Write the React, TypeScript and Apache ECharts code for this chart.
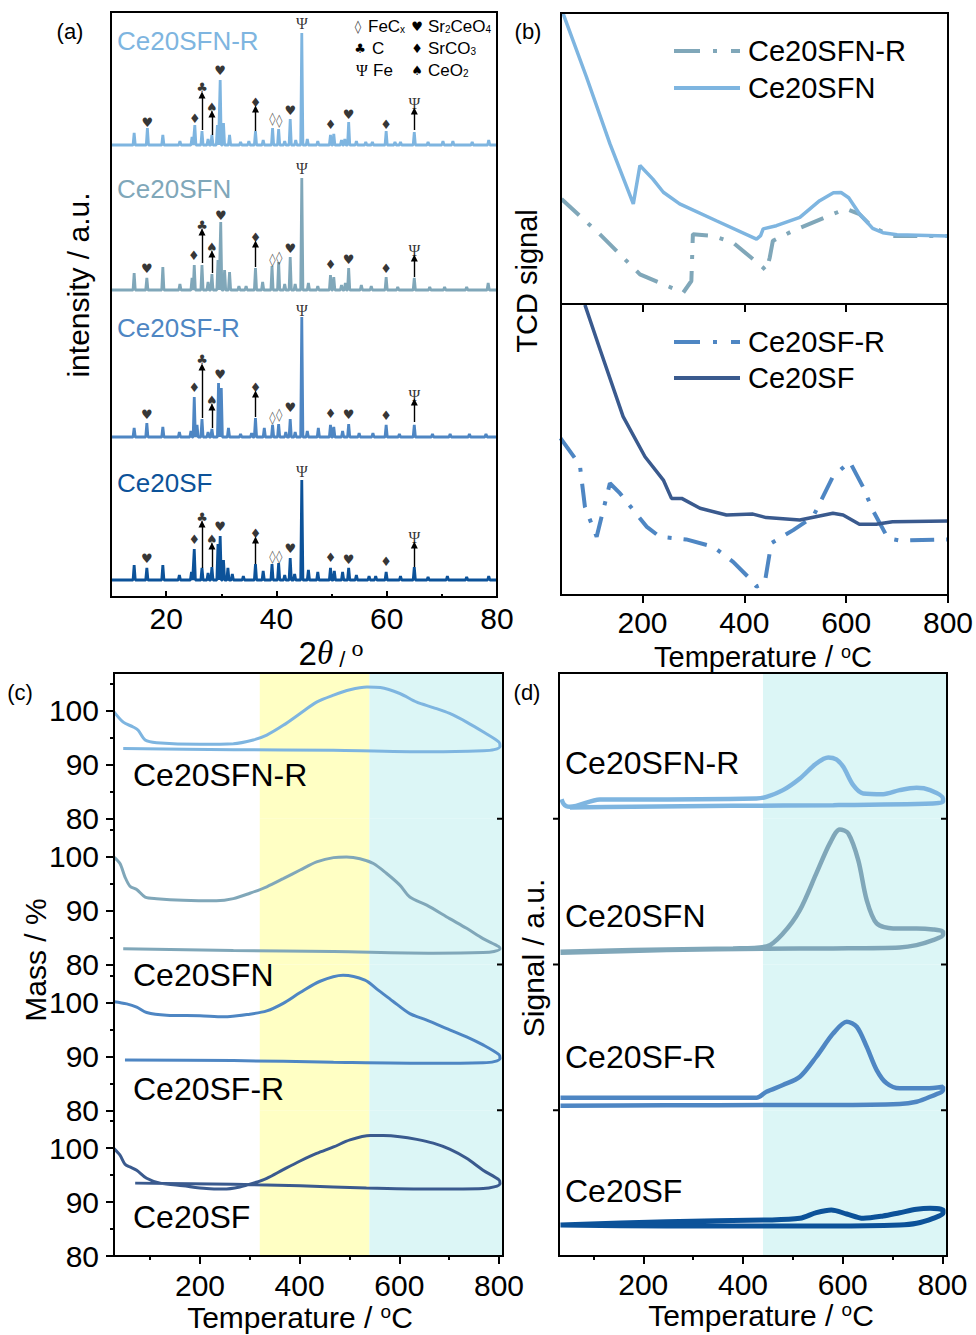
import React, { useEffect, useRef } from 'react';
import * as echarts from 'echarts';

const FONT = '"Liberation Sans", Arial, Helvetica, sans-serif';
const SYM_FONT = '"DejaVu Sans", sans-serif';
const SERIF = '"Liberation Serif", "DejaVu Serif", serif';

const C_SFNR = '#7EB5E0';
const C_SFN = '#80A7B9';
const C_SFR = '#4E86C3';
const C_SF = '#0C5299';
const C_SF_B = '#3A5A8E';
const YELLOW = '#FFFFC4';
const CYAN = '#DCF6F6';

// ---------------- (a) XRD: peaks [2θ, intensity (a.u.)] ----------------
const xrdMajor = [20, 40, 60, 80];
const xrdMinor = [30, 50, 70];
const xrdSFNR = [[14.2,12],[16.6,17],[19.4,10],[22.5,4],[24.7,8],[25.2,20],[26.5,14],[27.6,6],[28.3,10],[29.3,20],[29.8,65],[30.4,22],[31.5,10],[33.5,3],[35.0,4],[36.2,14],[37.6,5],[39.3,17],[40.4,16],[41.5,4],[42.5,26],[43.5,5],[44.6,112],[45.6,6],[47.5,4],[49.8,10],[50.4,11],[51.8,5],[52.4,6],[53.1,23],[54.5,4],[56.2,3],[57.4,3],[59.9,14],[61.5,3],[62.5,3],[65.0,13],[67.5,3],[70.2,4],[72.0,4],[75.5,3],[78.5,5]];
const xrdSFN = [[14.2,17],[16.5,12],[19.4,23],[22.5,6],[24.7,12],[25.1,25],[26.5,25],[27.6,8],[28.3,16],[29.4,30],[29.9,68],[30.6,20],[31.5,18],[33.2,4],[34.5,4],[36.2,22],[37.5,8],[39.2,24],[40.4,28],[41.5,6],[42.5,33],[43.4,6],[44.6,112],[45.8,7],[47.5,4],[49.8,15],[50.4,13],[51.8,5],[52.5,7],[53.1,22],[55.4,5],[57.2,4],[59.9,13],[62.0,3],[65.0,12],[67.8,3],[70.5,3],[74.5,3],[78.4,7]];
const xrdSFR = [[14.2,9],[16.5,14],[19.4,10],[22.4,5],[24.5,6],[25.1,40],[25.6,12],[26.5,18],[27.6,5],[28.3,8],[29.5,54],[30.0,49],[31.3,9],[33.5,3],[35.5,4],[36.2,19],[37.8,9],[39.3,12],[40.4,13],[41.7,5],[42.5,18],[43.4,5],[44.6,120],[45.6,6],[47.6,9],[49.8,12],[50.4,10],[52.0,6],[53.1,13],[55.0,4],[57.5,4],[59.9,12],[62.3,3],[65.0,12],[68.3,3],[71.5,3],[75.0,3],[78.0,3]];
const xrdSF = [[14.2,15],[16.5,12],[19.4,15],[22.4,5],[24.6,8],[25.1,31],[26.5,12],[27.6,7],[28.3,13],[29.4,36],[29.8,44],[30.4,20],[31.2,12],[32.0,6],[34.0,4],[36.2,16],[37.6,9],[39.2,16],[40.4,17],[41.5,5],[42.5,22],[43.3,6],[44.6,100],[45.8,10],[47.5,8],[49.8,12],[50.5,9],[52.0,8],[53.1,12],[54.5,5],[56.8,4],[58.0,4],[59.9,8],[62.5,4],[65.0,13],[67.5,3],[71.0,4],[74.5,3],[78.5,4]];

// phase markers [2θ, height above trace baseline, glyph]
const marksSFNR = [[16.6,23,'♥'],[25.2,27,'♦'],[26.5,58,'♣'],[28.3,38,'♠'],[29.8,75,'♥'],[36.2,43,'♦'],[39.3,27,'◊'],[40.5,25,'◊'],[42.5,35,'♥'],[44.6,122,'Ψ'],[49.8,21,'♦'],[53.1,31,'♥'],[59.9,21,'♦'],[65.0,42,'Ψ']];
const marksSFN = [[16.5,22,'♥'],[25.0,35,'♦'],[26.5,65,'♣'],[28.3,43,'♠'],[29.9,75,'♥'],[36.2,53,'♦'],[39.3,31,'◊'],[40.5,33,'◊'],[42.5,42,'♥'],[44.6,122,'Ψ'],[49.8,26,'♦'],[53.1,31,'♥'],[59.9,22,'♦'],[65.0,40,'Ψ']];
const marksSFR = [[16.5,23,'♥'],[25.1,50,'♦'],[26.5,78,'♣'],[28.3,37,'♠'],[29.8,63,'♥'],[36.2,50,'♦'],[39.3,20,'◊'],[40.5,23,'◊'],[42.5,30,'♥'],[44.6,127,'Ψ'],[49.8,24,'♦'],[53.1,23,'♥'],[59.9,22,'♦'],[65.0,42,'Ψ']];
const marksSF = [[16.5,22,'♥'],[25.1,41,'♦'],[26.5,63,'♣'],[28.3,41,'♠'],[29.8,54,'♥'],[36.2,47,'♦'],[39.3,24,'◊'],[40.5,24,'◊'],[42.5,32,'♥'],[44.6,109,'Ψ'],[49.8,23,'♦'],[53.1,21,'♥'],[59.9,19,'♦'],[65.0,43,'Ψ']];
// arrows [2θ, from, to] above baseline
const arrowsSFNR = [[26.5,15,50],[28.3,10,31],[36.2,14,36],[65.0,15,34]];
const arrowsSFN = [[26.5,27,58],[28.3,17,36],[36.2,23,46],[65.0,13,32]];
const arrowsSFR = [[26.5,19,70],[28.3,9,30],[36.2,20,43],[65.0,15,35]];
const arrowsSF = [[26.5,12,56],[28.3,13,34],[36.2,16,40],[65.0,13,35]];

// ---------------- (b) TCD [T, signal] ----------------
const tempMajor = [200, 400, 600, 800];
const tcdSFN = [[44,99.9],[90,78],[136,55.1],[182,34.4],[195,47.6],[220,43],[241,38.4],[273,34.4],[345,28.6],[424,22.3],[432,23.5],[437,25.8],[463,26.9],[509,29.8],[548,35.5],[575,38.2],[590,38.3],[605,36.5],[626,31],[652,26],[672,24.5],[700,23.8],[800,23.4]];
const tcdSFNR = [[41,36.1],[116,24],[195,10.2],[280,3.9],[296,7.9],[299,24],[339,23.4],[378,21.1],[437,12.5],[443,11.4],[450,16],[456,21.7],[496,25.2],[574,30.9],[600,32.7],[626,30.9],[652,26.3],[691,23.4],[800,23.4]];
const tcdSF = [[87,99.7],[117,84.2],[162,61.3],[205,47.5],[241,39.5],[257,33.2],[277,33.2],[313,29.8],[365,27.5],[417,27.8],[443,26.6],[509,25.8],[574,28.1],[594,27.5],[626,24.3],[659,24.3],[691,25.2],[800,25.4]];
const tcdSFR = [[39,53.9],[77,44.7],[87,30.3],[110,20],[136,38.4],[156,34.9],[208,23.5],[234,20],[286,19.1],[339,16.6],[378,11.4],[407,6.3],[424,2.9],[440,4],[453,17.8],[496,22.3],[535,26.9],[574,40.7],[607,45.8],[633,37.2],[652,29.2],[682,19.5],[705,18.7],[800,19.1]];

// ---------------- (c) TG mass % [T, mass] ----------------
const massMajor = [80, 90, 100];
const massMinor = [85, 95, 105];
const tempMinor = [100, 300, 500, 700];
const tgSFNR = [[27.5,99.8],[46,97.9],[66,97.0],[76,96.4],[90,94.6],[113,94.1],[200,93.8],[267,93.9],[307,94.6],[334,95.5],[367,97.3],[401,99.5],[434,101.6],[468,102.9],[501,103.9],[535,104.4],[562,104.3],[601,103.2],[635,101.6],[668,100.6],[701,99.5],[735,97.9],[768,96.1],[800,94.2],[802,93.4],[790,92.8],[768,92.6],[668,92.4],[468,92.7],[267,92.8],[46,93.0]];
const tgSFN = [[27.5,99.9],[39.5,98.7],[49.6,96.2],[59.6,94.5],[73,93.9],[90,92.5],[113,92.2],[166,91.9],[233,91.8],[267,92.2],[300,93.2],[334,94.4],[367,95.9],[401,97.5],[434,99.0],[468,99.8],[494,99.9],[521,99.6],[548,98.7],[574,96.9],[601,94.7],[621,92.5],[655,91.0],[701,88.5],[735,86.7],[768,84.8],[800,83.3],[802,82.9],[790,82.4],[768,82.2],[668,82.1],[468,82.4],[267,82.6],[46,82.9]];
const tgSFR = [[27.5,100.1],[53,99.7],[73,99.1],[93,98.1],[133,97.6],[200,97.5],[247,97.3],[300,97.8],[334,98.4],[367,99.8],[401,101.8],[441,103.9],[487,105.0],[531,104.1],[557,102.3],[587,100.2],[621,97.9],[655,96.7],[701,94.9],[735,93.6],[768,92.1],[800,90.3],[802,89.6],[790,89.0],[768,88.8],[668,88.7],[468,88.9],[267,89.2],[49.5,89.3]];
const tgSF = [[27.5,99.9],[39.5,98.7],[49.6,97.0],[59.6,96.5],[73,95.9],[93,94.4],[120,93.5],[166,93.0],[213,92.5],[247,92.4],[280,92.8],[307,93.5],[334,94.4],[367,96.0],[401,97.6],[434,99.0],[468,100.2],[501,101.5],[542,102.3],[568,102.3],[601,102.1],[635,101.6],[668,100.9],[701,99.8],[735,98.1],[768,95.9],[800,94.1],[802,93.4],[790,92.8],[768,92.5],[668,92.4],[534,92.6],[401,93.0],[267,93.3],[70,93.5]];

// ---------------- (d) MS signal [T, a.u.] ----------------
const msSFNR = [[36,19.5],[40,15],[46,12.5],[53,12],[113,19.3],[179,19.3],[427,20.3],[447,21.9],[480,28.6],[514,40.3],[547,55.3],[571,61.3],[587,59.3],[601,51.9],[621,33.6],[641,25.3],[681,24.6],[714,28.6],[748,30.9],[775,28.6],[801,20.3],[801,16.9],[781,15.3],[581,13.6],[380,12.9],[179,11.9],[53,11.3]];
const msSFN = [[34,12.7],[179,14.4],[380,16.1],[447,18],[480,31],[514,54.4],[547,91.1],[574,121.1],[594,135.1],[611,131.1],[631,104.4],[648,64.4],[668,41.1],[701,36.1],[748,36.1],[781,35.1],[801,32.7],[801,29.4],[781,24.4],[748,19.4],[714,17.1],[581,16.1],[447,15.7],[247,14.4],[34,11.7]];
const msSFR = [[34,12.5],[427,12.5],[447,18.5],[480,25.2],[514,33.5],[547,53.5],[581,76.9],[608,88.5],[628,83.5],[648,63.5],[668,40.2],[688,26.9],[714,21.9],[768,21.9],[801,23.5],[801,20.2],[775,13.5],[748,8.5],[714,6.2],[581,5.2],[447,5.2],[247,4.9],[34,4.5]];
const msSF = [[34,31],[247,34.3],[447,36],[514,37.7],[547,43.3],[577,46],[608,42],[641,37.7],[681,40],[714,43.3],[748,46.7],[775,47.7],[801,46],[801,42.7],[781,37.7],[748,32.7],[714,31],[581,30],[447,30],[247,30],[34,31]];

// -------- layout constants --------
const XRD_BASES = [452, 307, 160, 17];
const STACK_TOPS = [673, 818.75, 964.5, 1110.25];
const STACK_H = 145.75;
const DASHDOT = [24, 12, 4, 12];

function xrdLine(peaks: number[][], base: number) {
  const pts: number[][] = [[10, base]];
  for (const [p, h] of peaks) {
    pts.push([p - 0.2, base], [p, base + h], [p + 0.2, base]);
  }
  pts.push([80, base]);
  return pts;
}

function text(x: number, y: number, str: string, o: any = {}) {
  const align = o.align || 'left';
  const va = o.va || 'middle';
  return {
    type: 'text', x, y, z: 100, rotation: o.rotation || 0,
    style: {
      text: str, fill: o.color || '#000', fontSize: o.size || 30, fontFamily: o.family || FONT,
      align, verticalAlign: va, textAlign: align, textVerticalAlign: va, rich: o.rich,
    },
  };
}
function frame(x: number, y: number, w: number, h: number) {
  return { type: 'rect', z: 100, shape: { x, y, width: w, height: h }, style: { fill: 'none', stroke: '#000', lineWidth: 2 } };
}
function tick(x1: number, y: number, x2: number) {
  return { type: 'line', z: 100, shape: { x1, y1: y, x2, y2: y }, style: { stroke: '#000', lineWidth: 2 } };
}

function buildOption() {
  const grids: any[] = [
    { left: 111, top: 12, width: 386, height: 585 },
    { left: 561, top: 13, width: 387, height: 291 },
    { left: 561, top: 304, width: 387, height: 291 },
    ...STACK_TOPS.map((t) => ({ left: 114, top: t, width: 389, height: STACK_H })),
    ...STACK_TOPS.map((t) => ({ left: 559, top: t, width: 388, height: STACK_H })),
  ].map((g) => ({ ...g, outerBoundsMode: 'none', containLabel: false }));

  const tickStyle = { color: '#000', width: 2 };
  const lbl = (vals: number[], margin: number) => ({ show: true, customValues: vals, fontSize: 30, color: '#000', fontFamily: FONT, margin });
  const noLbl = { show: false };

  const xAxes: any[] = [];
  const yAxes: any[] = [];
  // (a) 0,1
  xAxes.push({ type: 'value', gridIndex: 0, min: 10, max: 80, position: 'bottom', axisLine: { show: false }, splitLine: { show: false },
    axisTick: { show: true, inside: true, length: 6, customValues: xrdMajor, lineStyle: tickStyle }, axisLabel: lbl(xrdMajor, 6) });
  xAxes.push({ type: 'value', gridIndex: 0, min: 10, max: 80, position: 'bottom', axisLine: { show: false }, splitLine: { show: false },
    axisTick: { show: true, inside: true, length: 3, customValues: xrdMinor, lineStyle: tickStyle }, axisLabel: noLbl });
  // (b) 2,3
  xAxes.push({ type: 'value', gridIndex: 1, min: 40, max: 800, position: 'bottom', axisLine: { show: false }, splitLine: { show: false },
    axisTick: { show: true, length: 8, customValues: [200, 400, 600], lineStyle: tickStyle }, axisLabel: noLbl });
  xAxes.push({ type: 'value', gridIndex: 2, min: 40, max: 800, position: 'bottom', axisLine: { show: false }, splitLine: { show: false },
    axisTick: { show: true, length: 8, customValues: tempMajor, lineStyle: tickStyle }, axisLabel: lbl(tempMajor, 12) });
  // (c) 4..7, minor 8
  for (let i = 0; i < 4; i++) {
    const last = i === 3;
    xAxes.push({ type: 'value', gridIndex: 3 + i, min: 27.5, max: 808, position: 'bottom', axisLine: { show: false }, splitLine: { show: false },
      axisTick: { show: last, length: 8, customValues: tempMajor, lineStyle: tickStyle }, axisLabel: last ? lbl(tempMajor, 14) : noLbl });
  }
  xAxes.push({ type: 'value', gridIndex: 6, min: 27.5, max: 808, position: 'bottom', axisLine: { show: false }, splitLine: { show: false },
    axisTick: { show: true, length: 4, customValues: tempMinor, lineStyle: tickStyle }, axisLabel: noLbl });
  // (d) 9..12, minor 13
  for (let i = 0; i < 4; i++) {
    const last = i === 3;
    xAxes.push({ type: 'value', gridIndex: 7 + i, min: 31, max: 809, position: 'bottom', axisLine: { show: false }, splitLine: { show: false },
      axisTick: { show: last, length: 8, customValues: tempMajor, lineStyle: tickStyle }, axisLabel: last ? lbl(tempMajor, 13) : noLbl });
  }
  xAxes.push({ type: 'value', gridIndex: 10, min: 31, max: 809, position: 'bottom', axisLine: { show: false }, splitLine: { show: false },
    axisTick: { show: true, length: 4, customValues: tempMinor, lineStyle: tickStyle }, axisLabel: noLbl });

  // y axes
  yAxes.push({ type: 'value', gridIndex: 0, min: 0, max: 585, show: false });
  yAxes.push({ type: 'value', gridIndex: 1, min: 0, max: 100, show: false });
  yAxes.push({ type: 'value', gridIndex: 2, min: 0, max: 100, show: false });
  for (let i = 0; i < 4; i++) {
    yAxes.push({ type: 'value', gridIndex: 3 + i, min: 80, max: 107, position: 'left', offset: 0, axisLine: { show: false }, splitLine: { show: false },
      axisTick: { show: true, length: 8, customValues: massMajor, lineStyle: tickStyle }, axisLabel: lbl(massMajor, 15) });
  }
  for (let i = 0; i < 4; i++) {
    yAxes.push({ type: 'value', gridIndex: 3 + i, min: 80, max: 107, position: 'left', offset: 0, axisLine: { show: false }, splitLine: { show: false },
      axisTick: { show: true, length: 4, customValues: massMinor, lineStyle: tickStyle }, axisLabel: noLbl });
  }
  for (let i = 0; i < 4; i++) {
    yAxes.push({ type: 'value', gridIndex: 7 + i, min: 0, max: STACK_H, show: false });
  }

  const series: any[] = [];
  // (a)
  const xrdSets = [
    { peaks: xrdSFNR, color: C_SFNR, marks: marksSFNR, arrows: arrowsSFNR },
    { peaks: xrdSFN, color: C_SFN, marks: marksSFN, arrows: arrowsSFN },
    { peaks: xrdSFR, color: C_SFR, marks: marksSFR, arrows: arrowsSFR },
    { peaks: xrdSF, color: C_SF, marks: marksSF, arrows: arrowsSF },
  ];
  xrdSets.forEach((s, i) => {
    const base = XRD_BASES[i];
    series.push({
      type: 'line', xAxisIndex: 0, yAxisIndex: 0, data: xrdLine(s.peaks as number[][], base), symbol: 'none', z: 3,
      lineStyle: { color: s.color, width: 2.8 },
      markLine: {
        silent: true, symbol: ['none', 'triangle'], symbolSize: 7, label: { show: false },
        lineStyle: { color: '#000', width: 1.4, type: 'solid' },
        data: s.arrows.map(([x, a, b]) => [{ coord: [x, base + a] }, { coord: [x, base + b] }]),
      },
    });
    series.push({
      type: 'scatter', xAxisIndex: 0, yAxisIndex: 0, symbolSize: 1, z: 5, itemStyle: { color: 'rgba(0,0,0,0)' },
      data: s.marks.map(([x, h, g]) => ({ value: [x, base + (h as number)], name: g })),
      label: {
        show: true, position: 'inside',
        formatter: (p: any) => (p.name === 'Ψ' ? '{p|Ψ}' : p.name === '◊' ? '{d|◊}' : `{g|${p.name}}`),
        rich: {
          g: { fontSize: 13, fontFamily: SYM_FONT, color: '#000' },
          d: { fontSize: 13, fontFamily: SYM_FONT, color: '#444' },
          p: { fontSize: 16, fontFamily: SERIF, color: '#000' },
        },
      },
    });
  });

  // (b)
  series.push({ type: 'line', xAxisIndex: 2, yAxisIndex: 1, data: tcdSFNR, symbol: 'none', lineStyle: { color: C_SFN, width: 4, type: DASHDOT } });
  series.push({ type: 'line', xAxisIndex: 2, yAxisIndex: 1, data: tcdSFN, symbol: 'none', lineStyle: { color: C_SFNR, width: 3.5 } });
  series.push({ type: 'line', xAxisIndex: 3, yAxisIndex: 2, data: tcdSFR, symbol: 'none', lineStyle: { color: C_SFR, width: 4, type: DASHDOT } });
  series.push({ type: 'line', xAxisIndex: 3, yAxisIndex: 2, data: tcdSF, symbol: 'none', lineStyle: { color: C_SF_B, width: 3.5 } });

  // (c)
  const tgSets = [
    { d: tgSFNR, c: C_SFNR },
    { d: tgSFN, c: C_SFN },
    { d: tgSFR, c: C_SFR },
    { d: tgSF, c: C_SF_B },
  ];
  tgSets.forEach((s, i) => {
    series.push({
      type: 'line', xAxisIndex: 4 + i, yAxisIndex: 3 + i, data: s.d, symbol: 'none', smooth: 0.3,
      lineStyle: { color: s.c, width: 3 },
      markArea: {
        silent: true,
        data: [
          [{ xAxis: 320, itemStyle: { color: YELLOW } }, { xAxis: 540, itemStyle: { color: YELLOW } }],
          [{ xAxis: 540, itemStyle: { color: CYAN } }, { xAxis: 808, itemStyle: { color: CYAN } }],
        ],
      },
    });
  });

  // (d)
  const msSets = [
    { d: msSFNR, c: C_SFNR, w: 4.5 },
    { d: msSFN, c: C_SFN, w: 4.5 },
    { d: msSFR, c: C_SFR, w: 4.5 },
    { d: msSF, c: C_SF, w: 5 },
  ];
  msSets.forEach((s, i) => {
    series.push({
      type: 'line', xAxisIndex: 9 + i, yAxisIndex: 11 + i, data: s.d, symbol: 'none', smooth: 0.3,
      lineStyle: { color: s.c, width: s.w },
      markArea: {
        silent: true,
        data: [[{ xAxis: 440, itemStyle: { color: CYAN } }, { xAxis: 809, itemStyle: { color: CYAN } }]],
      },
    });
  });

  const supRich = (size: number) => ({
    a: { fontSize: size, fontFamily: FONT, color: '#000', lineHeight: size },
    s: { fontSize: Math.round(size * 0.62), fontFamily: FONT, color: '#000', verticalAlign: 'top', lineHeight: size },
  });
  const subRich = {
    a: { fontSize: 17, fontFamily: FONT, color: '#000', lineHeight: 17 },
    s: { fontSize: 10, fontFamily: FONT, color: '#000', verticalAlign: 'bottom', lineHeight: 12 },
  };
  const tempName = '{a|Temperature / }{s|o}{a|C}';

  const boundaryTicks: any[] = [];
  STACK_TOPS.slice(1).forEach((y) => {
    boundaryTicks.push(tick(497, y, 503), tick(941, y, 947), tick(553, y, 559));
  });

  const graphics: any[] = [
    frame(111, 12, 386, 585),
    frame(561, 13, 387, 291),
    frame(561, 304, 387, 291),
    frame(114, 673, 389, 583),
    frame(559, 673, 388, 583),
    ...boundaryTicks,
    // panel letters
    text(70, 31, '(a)', { size: 22, align: 'center' }),
    text(528, 31, '(b)', { size: 22, align: 'center' }),
    text(20, 692, '(c)', { size: 22, align: 'center' }),
    text(527, 692, '(d)', { size: 22, align: 'center' }),
    // (a) sample labels
    text(117, 41, 'Ce20SFN-R', { size: 26, color: C_SFNR }),
    text(117, 189, 'Ce20SFN', { size: 26, color: C_SFN }),
    text(117, 328, 'Ce20SF-R', { size: 26, color: C_SFR }),
    text(117, 483, 'Ce20SF', { size: 26, color: C_SF }),
    // (a) phase legend
    text(358, 26, '◊', { size: 13, family: SYM_FONT, align: 'center', color: '#444' }),
    text(368, 26, '{a|FeC}{s|x}', { rich: subRich }),
    text(417, 26, '♥', { size: 13, family: SYM_FONT, align: 'center' }),
    text(428, 26, '{a|Sr}{s|2}{a|CeO}{s|4}', { rich: subRich }),
    text(360, 48, '♣', { size: 13, family: SYM_FONT, align: 'center' }),
    text(372, 48, '{a|C}', { rich: subRich }),
    text(417, 48, '♦', { size: 13, family: SYM_FONT, align: 'center' }),
    text(428, 48, '{a|SrCO}{s|3}', { rich: subRich }),
    text(362, 70, 'Ψ', { size: 16, family: SERIF, align: 'center' }),
    text(373, 70, '{a|Fe}', { rich: subRich }),
    text(417, 70, '♠', { size: 13, family: SYM_FONT, align: 'center' }),
    text(428, 70, '{a|CeO}{s|2}', { rich: subRich }),
    // (a) axis names
    text(78, 285, 'intensity / a.u.', { size: 30, align: 'center', rotation: Math.PI / 2 }),
    text(331, 653, '{n|2}{t|θ}{l| / }{s|o}', {
      align: 'center',
      rich: {
        n: { fontSize: 33, fontFamily: FONT, color: '#000', lineHeight: 34 },
        t: { fontSize: 33, fontFamily: SERIF, fontStyle: 'italic', color: '#000', lineHeight: 34 },
        l: { fontSize: 22, fontFamily: FONT, color: '#000', lineHeight: 30, verticalAlign: 'bottom' },
        s: { fontSize: 24, fontFamily: SERIF, color: '#000', lineHeight: 24, verticalAlign: 'top' },
      },
    }),
    // (b) legends
    { type: 'line', z: 100, shape: { x1: 674, y1: 51, x2: 740, y2: 51 }, style: { stroke: C_SFN, lineWidth: 4, lineDash: [26, 13, 4, 14] } },
    text(748, 51, 'Ce20SFN-R', { size: 29 }),
    { type: 'line', z: 100, shape: { x1: 674, y1: 88, x2: 740, y2: 88 }, style: { stroke: C_SFNR, lineWidth: 4 } },
    text(748, 88, 'Ce20SFN', { size: 29 }),
    { type: 'line', z: 100, shape: { x1: 674, y1: 342, x2: 740, y2: 342 }, style: { stroke: C_SFR, lineWidth: 4, lineDash: [26, 13, 4, 14] } },
    text(748, 342, 'Ce20SF-R', { size: 29 }),
    { type: 'line', z: 100, shape: { x1: 674, y1: 378, x2: 740, y2: 378 }, style: { stroke: C_SF_B, lineWidth: 4 } },
    text(748, 378, 'Ce20SF', { size: 29 }),
    text(527, 281, 'TCD signal', { size: 29, align: 'center', rotation: Math.PI / 2 }),
    text(763, 657, tempName, { align: 'center', rich: supRich(29) }),
    // (c)
    text(133, 775, 'Ce20SFN-R', { size: 32 }),
    text(133, 975, 'Ce20SFN', { size: 32 }),
    text(133, 1089, 'Ce20SF-R', { size: 32 }),
    text(133, 1217, 'Ce20SF', { size: 32 }),
    text(35, 960, 'Mass / %', { size: 30, align: 'center', rotation: Math.PI / 2 }),
    text(300, 1317, tempName, { align: 'center', rich: supRich(30) }),
    // (d)
    text(565, 763, 'Ce20SFN-R', { size: 32 }),
    text(565, 916, 'Ce20SFN', { size: 32 }),
    text(565, 1057, 'Ce20SF-R', { size: 32 }),
    text(565, 1191, 'Ce20SF', { size: 32 }),
    text(533, 958, 'Signal / a.u.', { size: 30, align: 'center', rotation: Math.PI / 2 }),
    text(761, 1315, tempName, { align: 'center', rich: supRich(30) }),
  ];

  return {
    animation: false,
    backgroundColor: '#fff',
    textStyle: { fontFamily: FONT },
    grid: grids,
    xAxis: xAxes,
    yAxis: yAxes,
    series,
    graphic: { elements: graphics },
  };
}

export default function App() {
  const ref = useRef<HTMLDivElement>(null);
  useEffect(() => {
    if (!ref.current) return;
    const chart = echarts.init(ref.current, null, { renderer: 'svg' });
    chart.setOption(buildOption() as any);
    return () => chart.dispose();
  }, []);
  return (
    <div
      ref={ref}
      style={{ position: 'fixed', left: 0, top: 0, width: 976, height: 1335, background: '#fff' }}
    />
  );
}
